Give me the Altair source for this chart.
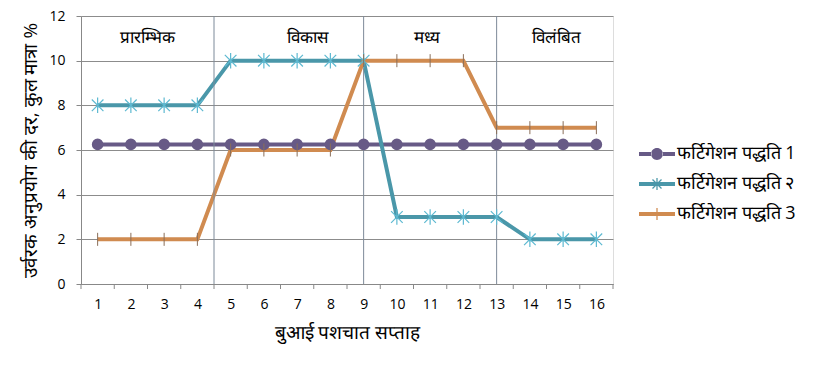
import altair as alt
import pandas as pd

weeks = list(range(1, 17))
series_names = ["फर्टिगेशन पद्धति 1", "फर्टिगेशन पद्धति २", "फर्टिगेशन पद्धति 3"]
s1 = [6.25, 6.25, 6.25, 6.25, 6.25, 6.25, 6.25, 6.25, 6.25, 6.25, 6.25, 6.25, 6.25, 6.25, 6.25, 6.25]
s2 = [8, 8, 8, 8, 10, 10, 10, 10, 10, 3, 3, 3, 3, 2, 2, 2]
s3 = [2, 2, 2, 2, 6, 6, 6, 6, 10, 10, 10, 10, 7, 7, 7, 7]
phase_names = ["प्रारम्भिक", "विकास", "मध्य", "विलंबित"]
phase_label_x = [2.5, 7.3, 10.9, 14.8]
phase_label_y = [11, 11, 11, 11]
phase_bounds = [4.5, 9, 13]
y_ticks = [0, 2, 4, 6, 8, 10, 12]

colors = ["#675A86", "#4A97A9", "#D08B50"]
FONT = "Open Sans"

rows = []
for name, vals in zip(series_names, [s1, s2, s3]):
    for w, v in zip(weeks, vals):
        rows.append({"week": w, "value": v, "series": name, "legend_series": name})
df = pd.DataFrame(rows)

tick_df = pd.DataFrame({"b": [w - 0.5 for w in weeks] + [weeks[-1] + 0.5]})
phase_df = pd.DataFrame({"b": phase_bounds})
label_df = pd.DataFrame({"x": phase_label_x, "y": phase_label_y, "t": phase_names})

W, H = 532, 268
xs = alt.Scale(domain=[0.5, 16.5], nice=False, zero=False)
ys = alt.Scale(domain=[0, 12], nice=False)

x_axis = alt.Axis(values=weeks, ticks=False, grid=False, tickSize=0,
                  labelOverlap=False, labelFlush=False,
                  labelPadding=13, labelFontSize=14, labelFont=FONT,
                  labelColor="#000", domainColor="#888",
                  title="बुआई पशचात सप्ताह", titleFontSize=19,
                  titleFont=FONT, titleFontWeight="normal",
                  titleColor="#000", titlePadding=12)
y_axis = alt.Axis(values=y_ticks, grid=True, gridColor="#8C8C8C",
                  tickSize=5, tickColor="#888", domainColor="#888",
                  labelOverlap=False, labelFlush=False,
                  labelPadding=11, labelFontSize=14, labelFont=FONT,
                  labelColor="#000",
                  title="उर्वरक अनुप्रयोग की दर, कुल मात्रा  %",
                  titleFontSize=19, titleFont=FONT,
                  titleFontWeight="normal", titleColor="#000",
                  titlePadding=8)

color_scale = alt.Scale(domain=series_names, range=colors)


def rect(ax, ay, bx, by, w):
    dx, dy = bx - ax, by - ay
    L = (dx * dx + dy * dy) ** 0.5
    nx, ny = -dy / L * w, dx / L * w
    pts = [(ax + nx, ay + ny), (bx + nx, by + ny), (bx - nx, by - ny), (ax - nx, ay - ny)]
    return "M" + "L".join(f"{px:.3f},{py:.3f}" for px, py in pts) + "Z"


lw = 0.11
leg1 = rect(-1, 0, -0.3, 0, lw) + rect(0.3, 0, 1, 0, lw) + \
    "M0.33,0A0.33,0.33 0 1,1 -0.33,0A0.33,0.33 0 1,1 0.33,0Z"
leg2 = rect(-1, 0, 1, 0, lw) + rect(0, -0.33, 0, 0.33, 0.035) + \
    rect(-0.25, -0.25, 0.25, 0.25, 0.035) + rect(-0.25, 0.25, 0.25, -0.25, 0.035)
leg3 = rect(-1, 0, 1, 0, lw) + rect(0, -0.33, 0, 0.33, 0.035)

base = alt.Chart(df)
xq = alt.X("week:Q", scale=xs, axis=x_axis)
yq = alt.Y("value:Q", scale=ys, axis=y_axis)

lines = base.mark_line(strokeWidth=4).encode(
    x=xq, y=yq,
    color=alt.Color("series:N", scale=color_scale, legend=None),
    order=alt.Order("week:Q"))

circles = base.transform_filter(alt.datum.series == series_names[0]).mark_circle(
    size=135, opacity=1, color=colors[0]).encode(x=xq, y=yq)

stars = base.transform_filter(alt.datum.series == series_names[1]).mark_point(
    shape="M0,-1L0,1M-0.75,-0.75L0.75,0.75M-0.75,0.75L0.75,-0.75",
    size=240, strokeWidth=1.2, color="#5DB9D1", filled=False, opacity=1).encode(
    x=xq, y=yq)

pluses = base.transform_filter(alt.datum.series == series_names[2]).mark_point(
    shape="M0,-1L0,1", size=170, strokeWidth=1, color="#8A6E58",
    filled=False, opacity=1).encode(x=xq, y=yq)

leg_props = dict(title=None, orient="none", legendX=558, legendY=120,
                 labelFontSize=18, labelFont=FONT, labelColor="#000",
                 labelLimit=400, symbolSize=1296, symbolStrokeWidth=0,
                 symbolOpacity=1, rowPadding=3, labelOffset=2)

legend_layer = base.mark_point(filled=True, opacity=0).encode(
    x=xq, y=yq,
    color=alt.Color("legend_series:N", scale=alt.Scale(domain=series_names, range=colors),
                    legend=alt.Legend(**leg_props)),
    shape=alt.Shape("legend_series:N", scale=alt.Scale(domain=series_names, range=[leg1, leg2, leg3]),
                    legend=alt.Legend(**leg_props)))

ticks = alt.Chart(tick_df).mark_rule(color="#888", strokeWidth=1).encode(
    x=alt.X("b:Q", scale=xs, axis=x_axis), y=alt.value(H), y2=alt.value(H + 5))

phases = alt.Chart(phase_df).mark_rule(color="#7D8A99", strokeWidth=1).encode(
    x=alt.X("b:Q", scale=xs, axis=x_axis), y=alt.value(0), y2=alt.value(H))

labels = alt.Chart(label_df).mark_text(fontSize=17, font=FONT, color="#000").encode(
    x=alt.X("x:Q", scale=xs, axis=x_axis), y=alt.Y("y:Q", scale=ys, axis=y_axis), text="t:N")

chart = alt.layer(lines, phases, ticks, circles, stars, pluses, labels, legend_layer).resolve_scale(
    color="independent", shape="independent"
).properties(
    width=W, height=H,
    autosize=alt.AutoSizeParams(type="none"),
    padding={"left": 73, "top": 8, "right": 194, "bottom": 70},
).configure_view(stroke=None).configure_axis(labelOverlap=False).configure(background="#ffffff")

chart.save("out.html", embed_options={"renderer": "svg", "actions": False})
